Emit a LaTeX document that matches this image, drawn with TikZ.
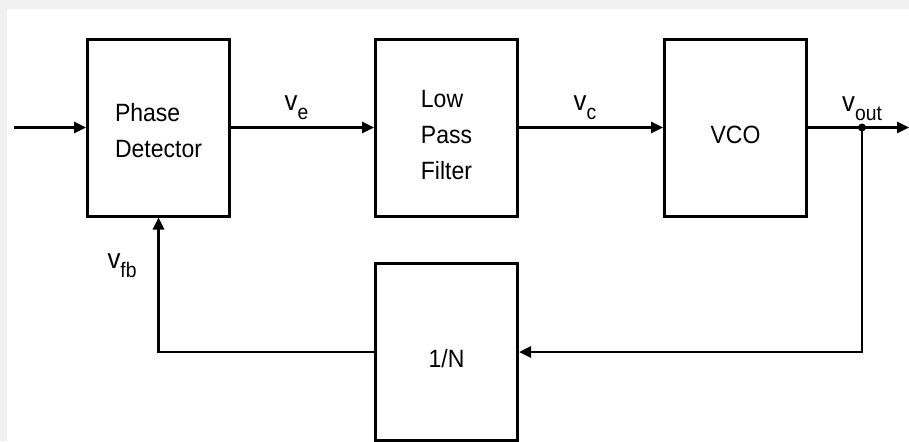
\documentclass[tikz,border=0pt]{standalone}
\usepackage{fontspec}
\setmainfont[FakeStretch=0.92]{Liberation Sans}
\usetikzlibrary{arrows.meta,positioning}
\newcommand{\lowidx}[1]{\raisebox{-4.5pt}{\fontsize{10.5}{12}\selectfont #1}}
\newcommand{\blockstrut}[1][16pt]{\rule{0pt}{#1}}

\begin{document}
\begin{tikzpicture}[x=0.5pt,y=-0.5pt,
  every node/.style={font=\fontsize{12.5}{18}\selectfont},
  block/.style={draw,line width=1.5pt,minimum width=71pt,minimum height=88.5pt,align=left},
  lbl/.style={font=\fontsize{14}{16}\selectfont},
  sig/.style={line width=1.3pt,-{Triangle[length=6pt,width=5.5pt]}},
  wire/.style={line width=1.3pt}]
\useasboundingbox (0,0) rectangle (909,441);
\fill[black!6] (0,0) rectangle (909,441);
\fill[white] (7,9) rectangle (909,441);
% blocks
\node[block] (pd) at (158.5,127.5) {\blockstrut[12pt]Phase\\Detector};
\node[block] (lpf) at (446.5,127.5) {\blockstrut Low\\Pass\\Filter};
\node[block] (vco) at (735.5,127.5) {\blockstrut VCO};
\node[block] (div) at (446.5,352) {\blockstrut 1/N};
% forward path
\coordinate (in) at (14,127.5);
\coordinate (out) at (909,127.5);
\coordinate (tap) at (862,127.5);
\draw[sig] (in) -- (pd.west);
\draw[sig] (pd.east) -- node[lbl,above,xshift=-3pt] (ve) {v\lowidx{e}} (lpf.west);
\draw[sig] (lpf.east) -- node[lbl,above,xshift=-3pt] (vc) {v\lowidx{c}} (vco.west);
\draw[sig] (vco.east) -- (out);
\fill (tap) circle (2pt);
\node[lbl,above] (vout) at (tap) {v\lowidx{out}};
% feedback path
\draw[sig] (tap) |- (div.east);
\draw[sig] (div.west) -| node[lbl,pos=0.82,left=7pt] (vfb) {v\lowidx{fb}} (pd.south);
\end{tikzpicture}
\end{document}
